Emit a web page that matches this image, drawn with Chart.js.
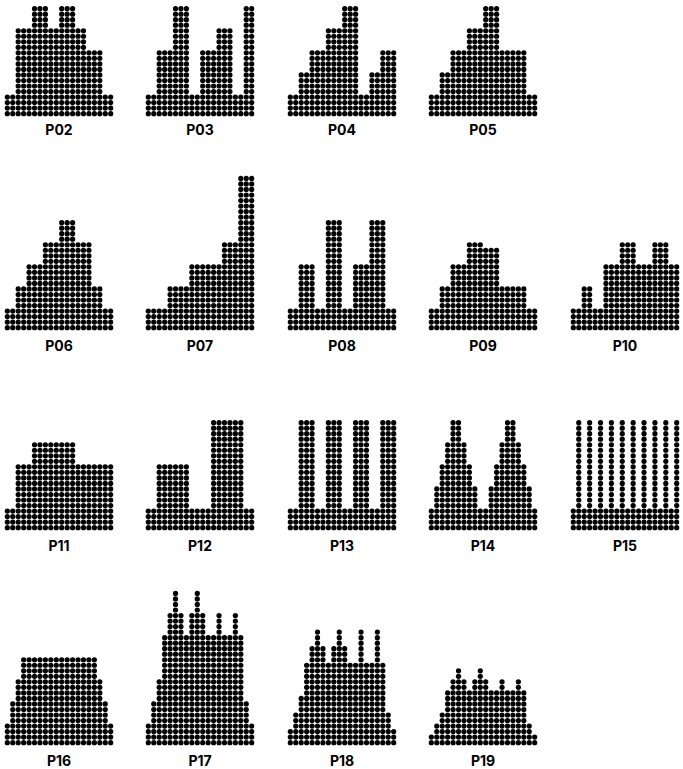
<!DOCTYPE html>
<html><head><meta charset="utf-8">
<script src="https://cdn.jsdelivr.net/npm/chart.js@4.4.1/dist/chart.umd.min.js"></script>
<style>
html,body{margin:0;padding:0;background:#fff;}
#wrap{position:relative;width:683px;height:769px;overflow:hidden;background:#fff;}
canvas{position:absolute;}
.lbl{position:absolute;width:114px;text-align:center;font-family:Inter,"DejaVu Sans",sans-serif;font-weight:700;font-size:14px;line-height:16px;color:#000;}
</style></head><body><div id="wrap"></div>
<script>
// ---- data: number of dots stacked in each of the 20 columns of each panel ----
const panelNames = ["P02","P03","P04","P05","P06","P07","P08","P09","P10","P11","P12","P13","P14","P15","P16","P17","P18","P19"];
const p02 = [4,4,16,16,16,20,20,20,16,16,20,20,20,16,16,12,12,12,4,4];
const p03 = [4,4,12,12,12,20,20,20,4,4,12,12,12,16,16,16,4,4,20,20];
const p04 = [4,4,8,8,12,12,12,16,16,16,20,20,20,4,4,8,8,12,12,12];
const p05 = [4,4,8,8,12,12,12,16,16,16,20,20,20,12,12,12,12,12,4,4];
const p06 = [4,4,8,8,12,12,12,16,16,16,20,20,20,16,16,16,8,8,4,4];
const p07 = [4,4,4,4,8,8,8,8,12,12,12,12,12,12,16,16,16,28,28,28];
const p08 = [4,4,12,12,12,4,4,20,20,20,4,4,12,12,12,20,20,20,4,4];
const p09 = [4,4,8,8,12,12,12,16,16,16,15,15,15,8,8,8,8,8,4,4];
const p10 = [4,4,8,8,4,4,12,12,12,16,16,16,12,12,12,16,16,16,12,12];
const p11 = [4,4,12,12,12,16,16,16,16,16,16,16,16,12,12,12,12,12,12,12];
const p12 = [4,4,12,12,12,12,12,12,4,4,4,4,20,20,20,20,20,20,4,4];
const p13 = [4,4,20,20,20,4,4,20,20,20,4,4,20,20,20,4,4,20,20,20];
const p14 = [4,8,12,16,20,20,16,12,8,4,4,8,12,16,20,20,16,12,8,4];
const p15 = [4,20,4,20,4,20,4,20,4,20,4,20,4,20,4,20,4,20,4,20];
const p16 = [4,8,12,16,16,16,16,16,16,16,16,16,16,16,16,16,16,12,8,4];
const p17 = [4,8,12,20,24,28,24,20,24,28,24,20,20,24,20,20,24,20,8,4];
const p18 = [3,6,9,15,18,21,18,15,18,21,18,15,15,21,15,15,21,15,6,3];
const p19 = [2,4,6,10,12,14,12,10,12,14,12,10,10,12,10,10,12,10,4,2];
const panelData = [p02,p03,p04,p05,p06,p07,p08,p09,p10,p11,p12,p13,p14,p15,p16,p17,p18,p19];

// ---- layout ----
const rowsOfPanels = [[0,1,2,3],[4,5,6,7,8],[9,10,11,12,13],[14,15,16,17]];
const colLeft = [2,143,285,426,568];
const rowBase = [116.5,330.5,530.5,745.5];
const labelCenter = [130,346,546,761];
const pitch = 5.7, maxRows = 30, W = 114, H = Math.round(maxRows*pitch);

const wrap = document.getElementById('wrap');
rowsOfPanels.forEach((row, r) => {
  row.forEach((pi, c) => {
    const cv = document.createElement('canvas');
    cv.width = W; cv.height = H;
    cv.style.left = colLeft[c] + 'px';
    cv.style.top = (rowBase[r] - (H - pitch/2)) + 'px';
    wrap.appendChild(cv);
    const pts = [];
    panelData[pi].forEach((h, i) => { for (let j = 0; j < h; j++) pts.push({x:i, y:j}); });
    new Chart(cv.getContext('2d'), {
      type:'scatter',
      data:{datasets:[{data:pts, pointRadius:2.6, pointHoverRadius:2.6, pointBackgroundColor:'#000', pointBorderWidth:0, borderWidth:0, clip:false}]},
      options:{responsive:false, animation:false, events:[], layout:{padding:0},
        plugins:{legend:{display:false}, tooltip:{enabled:false}},
        scales:{x:{type:'linear', min:-0.5, max:19.5, display:false},
                y:{type:'linear', min:-0.5, max:maxRows-0.5, display:false}}}
    });
    const lb = document.createElement('div');
    lb.className = 'lbl';
    lb.textContent = panelNames[pi];
    lb.style.left = colLeft[c] + 'px';
    lb.style.top = (labelCenter[r] - 8) + 'px';
    wrap.appendChild(lb);
  });
});
</script>
</body></html>
